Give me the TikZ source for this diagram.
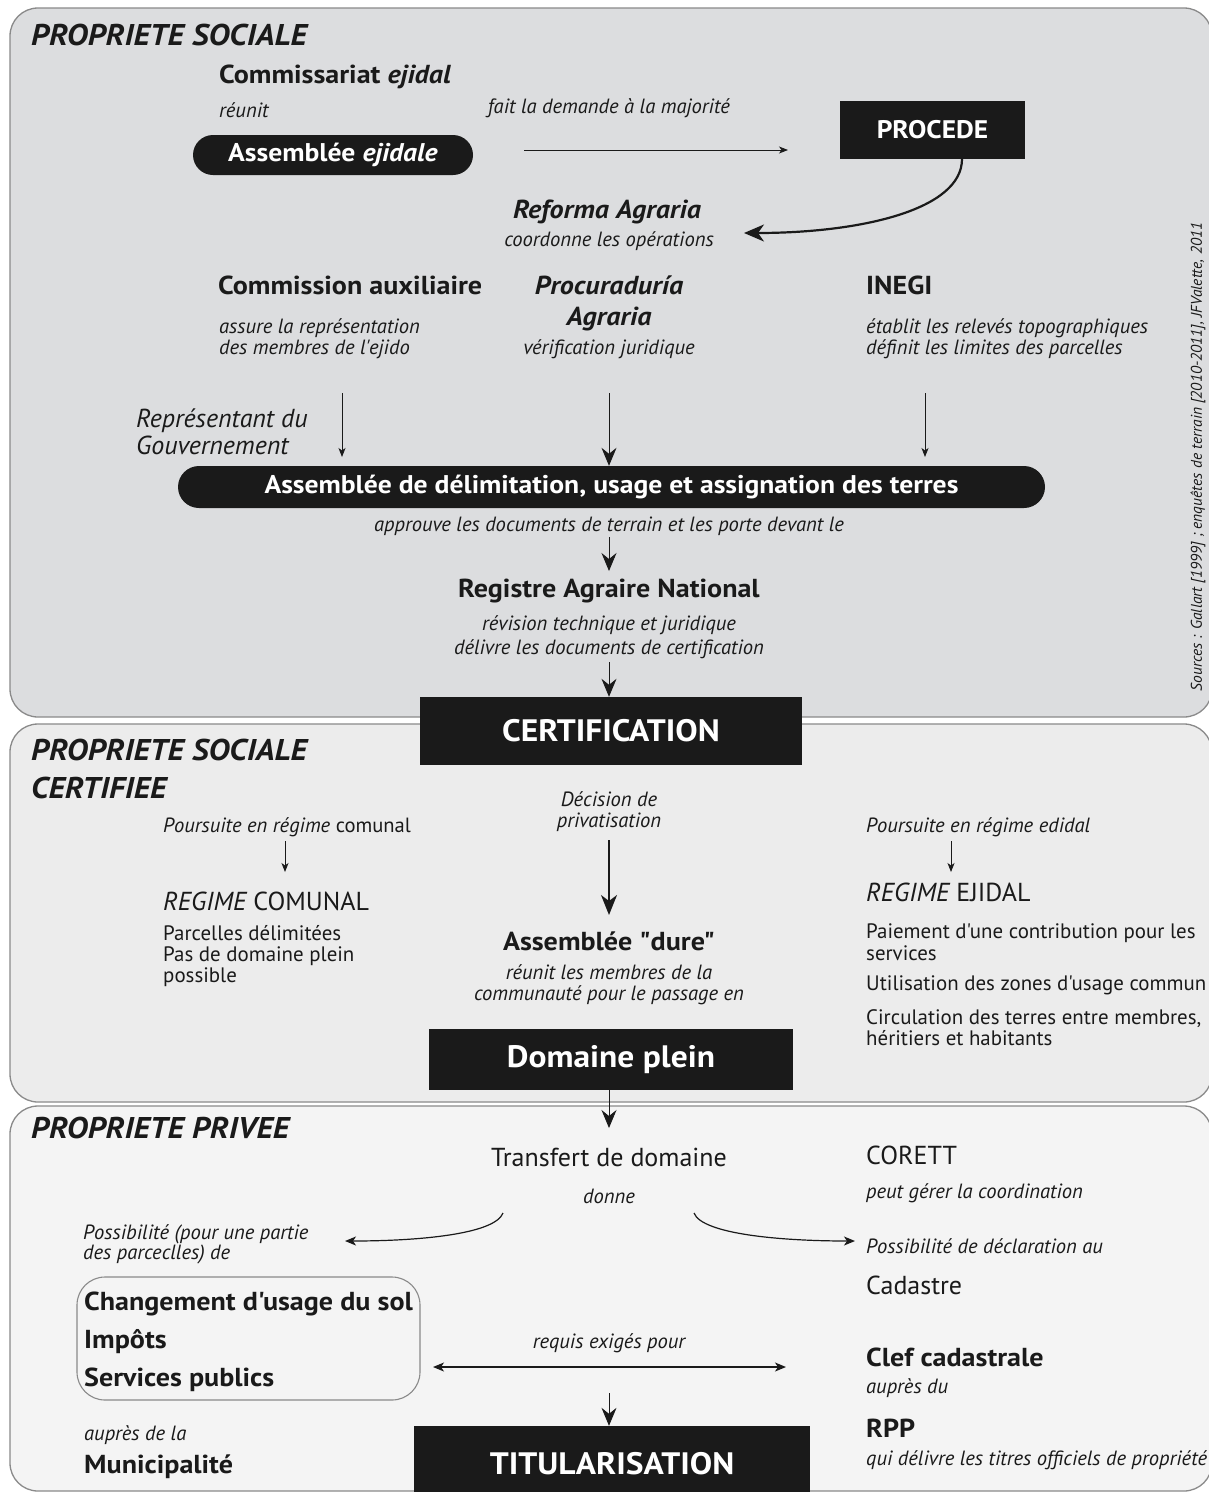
\documentclass[tikz,border=0pt]{standalone}
\usepackage{fontspec}
\setmainfont{PT Sans}[Ligatures=TeXOff, BoldFeatures={FakeStretch=1.08}, BoldItalicFeatures={FakeStretch=1.08}]
\usetikzlibrary{arrows.meta}
\definecolor{pone}{HTML}{DCDDDF}
\definecolor{ptwo}{HTML}{ECECEC}
\definecolor{pthree}{HTML}{F4F4F4}
\definecolor{bord}{HTML}{8A8A8A}
\definecolor{ink}{HTML}{1A1A1A}
\tikzset{
  panel/.style={draw=bord, line width=1.3pt, rounded corners=28pt},
  ttl/.style={font=\fontsize{30}{33}\selectfont\bfseries\itshape, anchor=base west, inner sep=0pt, text=ink},
  hd/.style={font=\fontsize{26}{30}\selectfont\bfseries, inner sep=0pt, text=ink},
  hdi/.style={font=\fontsize{26}{30}\selectfont\bfseries\itshape, inner sep=0pt, text=ink},
  itx/.style={font=\fontsize{20.6}{24}\selectfont\itshape, inner sep=0pt, text=ink},
  rgx/.style={font=\fontsize{20.9}{24}\selectfont, inner sep=0pt, text=ink},
  big/.style={font=\fontsize{26}{30}\selectfont, inner sep=0pt, text=ink},
  blk/.style={fill=ink, text=white, inner sep=0pt, font=\fontsize{31}{34}\selectfont\bfseries},
  pill/.style={fill=ink, text=white, inner sep=0pt, rounded corners=20pt, font=\fontsize{25.6}{28}\selectfont\bfseries},
  thinar/.style={draw=ink, line width=0.9pt, -{Stealth[length=9pt,width=7pt,inset=2.5pt]}},
  bigar/.style={draw=ink, line width=0.9pt, -{Stealth[length=18pt,width=15pt,inset=6pt]}},
}
\begin{document}
\begin{tikzpicture}[x=1pt,y=-1pt]
\useasboundingbox (0,0) rectangle (1209,1492);
\clip (0,0) rectangle (1209,1492);
\fill[white] (0,0) rectangle (1209,1492);
% panels
\draw[panel, fill=pone] (10,8) rectangle (1212,717);
\draw[panel, fill=ptwo] (10,724) rectangle (1212,1102);
\draw[panel, fill=pthree] (10,1106) rectangle (1212,1491);

% ---------- panel 1 ----------
\node[ttl] (t1) at (31,45) {PROPRIETE SOCIALE};
\node[hd, anchor=base west] (comm) at (219,83) {Commissariat \textit{ejidal}};
\node[itx, anchor=base west] (reunit) at (219,117) {réunit};
\node[itx, anchor=base] (fait) at (609,113) {fait la demande à la majorité};
\node[pill, minimum width=280pt, minimum height=40pt] (asej) at (333,155) {Assemblée \textit{ejidale}};
\node[blk, minimum width=185pt, minimum height=58pt, font=\fontsize{25.4}{28}\selectfont\bfseries] (proc) at (932.5,129.5) {PROCEDE};
\coordinate (a1s) at (524,150);
\coordinate (a1e) at (788,150);
\draw[thinar] (a1s) -- (a1e);
\coordinate (c1s) at (962,159);
\coordinate (c1e) at (744,233);
\draw[draw=ink, line width=2.2pt, -{Stealth[length=20pt,width=17pt,inset=6pt]}] (c1s) .. controls (962,210) and (860,233) .. (c1e);
\node[hdi, anchor=base] (refo) at (607,218) {Reforma Agraria};
\node[itx, anchor=base] (coord) at (609,246) {coordonne les opérations};

\node[hd, anchor=base west] (cax) at (218,294) {Commission auxiliaire};
\node[itx, anchor=base west] (cax1) at (219,333) {assure la représentation};
\node[itx, anchor=base west] (cax2) at (219,354) {des membres de l'ejido};
\node[hdi, anchor=base] (proc1) at (609,294) {Procuraduría};
\node[hdi, anchor=base] (proc2) at (609,325) {Agraria};
\node[itx, anchor=base] (verif) at (609,354) {vérification juridique};
\node[hd, anchor=base west] (inegi) at (866,294) {INEGI};
\node[itx, anchor=base west] (ineg1) at (866,333) {établit les relevés topographiques};
\node[itx, anchor=base west] (ineg2) at (866,354) {définit les limites des parcelles};
\node[font=\fontsize{26}{30}\selectfont\itshape, inner sep=0pt, text=ink, anchor=base west] (rep1) at (136,427) {Représentant du};
\node[font=\fontsize{26}{30}\selectfont\itshape, inner sep=0pt, text=ink, anchor=base west] (rep2) at (136,454) {Gouvernement};

\node[pill, minimum width=867pt, minimum height=42pt, rounded corners=21pt] (adel) at (611.5,487) {Assemblée de délimitation, usage et assignation des terres};
\coordinate (v1) at (342,393);
\coordinate (v2) at (609,393);
\coordinate (v3) at (925,393);
\draw[thinar] (v1) -- (342,457);
\draw[bigar] (v2) -- (adel.north -| v2);
\draw[thinar] (v3) -- (925,457);

\node[itx, anchor=base] (appr) at (609,531) {approuve les documents de terrain et les porte devant le};
\node[hd, anchor=base] (ran) at (609,597) {Registre Agraire National};
\draw[bigar] (609,537) coordinate (a2s) -- (609,571);
\node[itx, anchor=base] (rev1) at (609,630) {révision technique et juridique};
\node[itx, anchor=base] (rev2) at (609,654) {délivre les documents de certification};

\node[blk, minimum width=382pt, minimum height=68pt] (cert) at (611,731) {CERTIFICATION};
\draw[bigar] (609,662) coordinate (a3s) -- (cert.north -| v2);

\node[font=\fontsize{15.5}{17}\selectfont\itshape, rotate=90, inner sep=0pt, text=ink] (src) at (1198,457) {Sources : Gallart [1999] ; enquêtes de terrain [2010-2011], JFValette, 2011};

% ---------- panel 2 ----------
\node[ttl] (t2a) at (31,760) {PROPRIETE SOCIALE};
\node[ttl] (t2b) at (31,798) {CERTIFIEE};
\node[itx, anchor=base] (dec1) at (609,806) {Décision de};
\node[itx, anchor=base] (dec2) at (609,827) {privatisation};
\node[itx, anchor=base west] (pcom) at (163,832) {Poursuite en régime \upshape comunal};
\node[big, anchor=base west] (rcom) at (163,910) {\itshape REGIME\upshape\ COMUNAL};
\draw[thinar] (285,841) coordinate (b1) -- (285,872);
\node[rgx, anchor=base west] (rc1) at (163,940) {Parcelles délimitées};
\node[rgx, anchor=base west] (rc2) at (163,961) {Pas de domaine plein};
\node[rgx, anchor=base west] (rc3) at (163,982) {possible};

\node[hd, anchor=base] (adure) at (609,950) {Assemblée "dure"};
\draw[draw=ink, line width=2pt, -{Stealth[length=20pt,width=16pt,inset=6pt]}] (609,840) coordinate (b2) -- (609,915);
\node[itx, anchor=base] (ad1) at (609,979) {réunit les membres de la};
\node[itx, anchor=base] (ad2) at (609,1000) {communauté pour le passage en};
\node[blk, minimum width=364pt, minimum height=61pt] (dom) at (611,1059.5) {Domaine plein};

\node[itx, anchor=base west] (pej) at (866,832) {Poursuite en régime edidal};
\draw[thinar] (951,841) coordinate (b3) -- (951,872);
\node[big, anchor=base west] (rej) at (866,901) {\itshape REGIME\upshape\ EJIDAL};
\node[rgx, anchor=base west] (re1) at (866,938) {Paiement d'une contribution pour les};
\node[rgx, anchor=base west] (re2) at (866,960) {services};
\node[rgx, anchor=base west] (re3) at (866,990) {Utilisation des zones d'usage commun};
\node[rgx, anchor=base west] (re4) at (866,1024) {Circulation des terres entre membres,};
\node[rgx, anchor=base west] (re5) at (866,1045) {héritiers et habitants};

% ---------- panel 3 ----------
\node[ttl] (t3) at (31,1138) {PROPRIETE PRIVEE};
\node[big, anchor=base] (transf) at (609,1166) {Transfert de domaine};
\draw[bigar] (dom.south -| b2) -- (609,1128) coordinate (b4);
\node[itx, anchor=base] (donne) at (609,1203) {donne};
\node[big, anchor=base west] (corett) at (866,1164) {CORETT};
\node[itx, anchor=base west] (pg) at (866,1198) {peut gérer la coordination};
\node[itx, anchor=base west] (pdecl) at (866,1253) {Possibilité de déclaration au};
\node[big, anchor=base west] (cad) at (866,1294) {Cadastre};
\node[itx, anchor=base west] (pp1) at (83,1239) {Possibilité (pour une partie};
\node[itx, anchor=base west] (pp2) at (83,1259) {des parceclles) de};
\coordinate (l1s) at (503,1213);
\coordinate (l1e) at (345,1241);
\draw[draw=ink, line width=1.2pt, -{Stealth[length=11pt,width=9pt,inset=3pt]}] (l1s) .. controls (495,1234) and (420,1241) .. (l1e);
\coordinate (r1s) at (694,1213);
\coordinate (r1e) at (855,1241);
\draw[draw=ink, line width=1.2pt, -{Stealth[length=11pt,width=9pt,inset=3pt]}] (r1s) .. controls (702,1234) and (780,1241) .. (r1e);

\draw[draw=bord, line width=1.1pt, rounded corners=28pt] (77,1277) rectangle (420,1400);
\node[hd, anchor=base west] (chg) at (84,1310) {Changement d'usage du sol};
\node[hd, anchor=base west] (imp) at (84,1348) {Impôts};
\node[hd, anchor=base west] (serv) at (84,1386) {Services publics};
\node[itx, anchor=base] (req) at (609,1348) {requis exigés pour};
\coordinate (d1) at (433,1367);
\coordinate (d2) at (786,1367);
\draw[draw=ink, line width=1.2pt, {Stealth[length=11pt,width=9pt,inset=3pt]}-{Stealth[length=11pt,width=9pt,inset=3pt]}] (d1) -- (d2);
\node[hd, anchor=base west] (clef) at (866,1366) {Clef cadastrale};
\node[itx, anchor=base west] (aup) at (866,1393) {auprès du};
\node[blk, minimum width=396pt, minimum height=76pt] (titu) at (612,1464) {TITULARISATION};
\draw[bigar] (609,1393) coordinate (b5) -- (titu.north -| b5);
\node[itx, anchor=base west] (aupl) at (84,1440) {auprès de la};
\node[hd, anchor=base west] (muni) at (84,1473) {Municipalité};
\node[hd, anchor=base west] (rpp) at (866,1437) {RPP};
\node[itx, anchor=base west] (qui) at (866,1465) {qui délivre les titres officiels de propriété};
\end{tikzpicture}
\end{document}
